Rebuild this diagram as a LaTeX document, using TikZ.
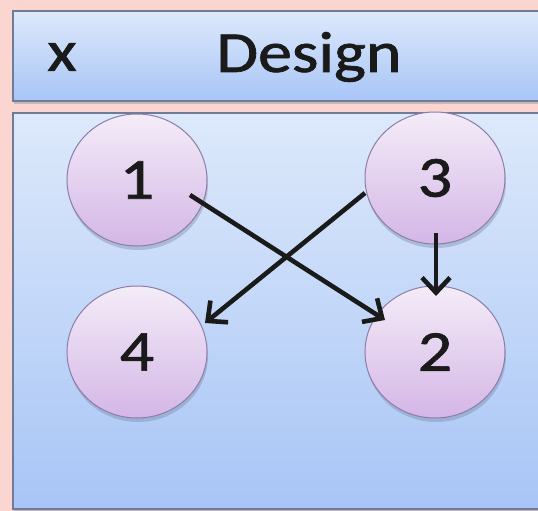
\documentclass[tikz,border=0pt]{standalone}
\usepackage{fontspec}
\setmainfont{Carlito}[FakeBold=1.2]
\usetikzlibrary{shapes.geometric,arrows.meta,calc,shadows}
\definecolor{bgpink}{HTML}{FBD6D1}
\definecolor{boxtop}{HTML}{DDE9FB}
\definecolor{boxbot}{HTML}{A8C5F6}
\definecolor{boxedge}{HTML}{6E7C98}
\definecolor{cirtop}{HTML}{F4ECF8}
\definecolor{cirbot}{HTML}{D4B6E6}
\definecolor{ciredge}{HTML}{8C7EA8}
\definecolor{txt}{HTML}{1A1A1A}
\newcommand{\bigtxt}[1]{\scalebox{1.17}[1]{\fontsize{58}{58}\selectfont\color{txt}#1}}
\tikzset{
  panel/.style={draw=boxedge, line width=1.6pt, top color=boxtop, bottom color=boxbot},
  stnode/.style={ellipse, minimum width=140pt, minimum height=132pt, draw=ciredge, line width=1pt,
     top color=cirtop, bottom color=cirbot, inner sep=0pt,
     drop shadow={shadow xshift=1pt, shadow yshift=-4pt, opacity=0.35, fill=boxedge}},
  label/.style={inner sep=0pt},
  conn/.style={line width=4.6pt, draw=txt, -{Straight Barb[length=15pt,width=28pt]}}
}
\begin{document}
\begin{tikzpicture}[x=1pt,y=-1pt]
\useasboundingbox (0,0) rectangle (538,511);
\clip (0,0) rectangle (538,511);
\fill[bgpink] (0,0) rectangle (538,511);
% header and body panels
\fill[boxedge, opacity=0.35] (14,12) rectangle (560,104);
\node[panel, minimum width=548pt, minimum height=90pt, anchor=north west, inner sep=0pt] (head) at (12,10) {};
\fill[boxedge, opacity=0.35] (14,114) rectangle (560,512);
\node[panel, minimum width=548pt, minimum height=396pt, anchor=north west, inner sep=0pt] (body) at (12,112) {};
\node[label] (x) at (62,57) {\bigtxt{x}};
\node[label] (design) at (309,57) {\bigtxt{Design}};
% circles
\node[stnode] (n1) at (137,180) {\bigtxt{1}};
\node[stnode] (n3) at (435,178) {\bigtxt{3}};
\node[stnode] (n4) at (137,352) {\bigtxt{4}};
\node[stnode] (n2) at (435,352) {\bigtxt{2}};
% connectors
\draw[conn] ($(n1.center)+(53,15)$) -- ($(n2.center)+(-50,-32)$);
\draw[conn] ($(n3.center)+(-70,15)$) -- ($(n4.center)+(68,-29)$);
\draw[conn] ($(n3.center)+(1,55)$) -- ($(n2.center)+(1,-56)$);
\end{tikzpicture}
\end{document}
